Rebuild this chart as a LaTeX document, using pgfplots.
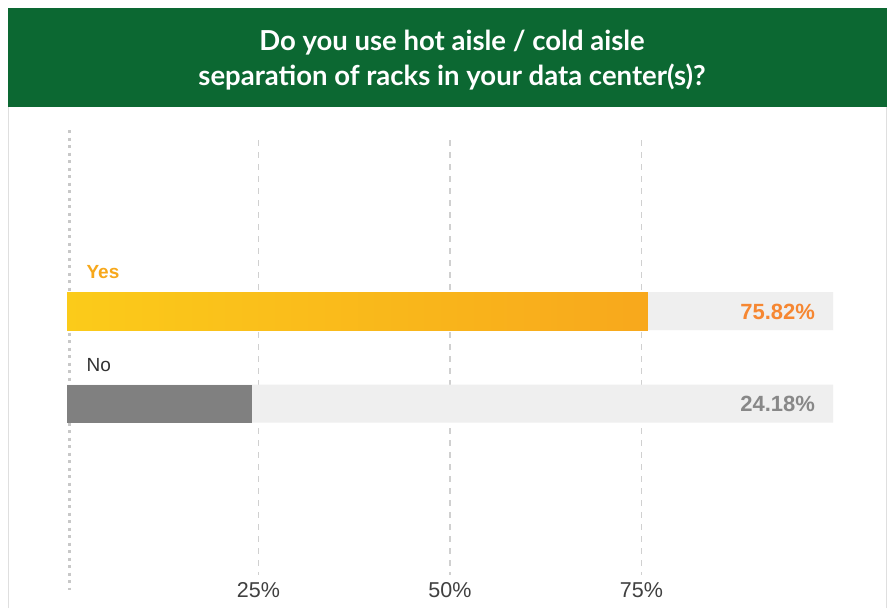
\documentclass[border=0pt]{standalone}
\usepackage{pgfplots}
\pgfplotsset{compat=1.18}
\usepackage{fontspec}
\setmainfont{Liberation Sans}
\newfontfamily\titlefont{Lato}
\definecolor{hdr}{RGB}{12,104,50}
\definecolor{bgbar}{RGB}{239,239,239}
\definecolor{yesL}{RGB}{251,203,26}
\definecolor{yesR}{RGB}{248,168,28}
\definecolor{nobar}{RGB}{128,128,128}
\definecolor{yeslab}{RGB}{247,168,27}
\definecolor{yesval}{RGB}{246,135,50}
\definecolor{noval}{RGB}{136,136,136}
\definecolor{gridc}{RGB}{208,208,208}
\definecolor{axc}{RGB}{200,200,200}
\begin{document}
\begin{tikzpicture}[x=1pt,y=1pt]
\fill[white] (0,0) rectangle (894,608);
\draw[gray!25, line width=1pt] (8.5,0) -- (8.5,600);
\draw[gray!25, line width=1pt] (886.5,0) -- (886.5,600);
\fill[hdr] (8,501) rectangle (887,600);
\node[text=white, align=center, font=\titlefont\bfseries\fontsize{27.5}{35}\selectfont] at (452,548) {Do you use hot aisle / cold aisle\\separation of racks in your data center(s)?};
\begin{axis}[
  at={(67pt,30pt)}, anchor=south west,
  scale only axis, width=766pt, height=448pt,
  xmin=0, xmax=100, ymin=130, ymax=578,
  y dir=reverse, clip=false,
  axis line style={draw=none},
  xtick={25,50,75}, xticklabels={25\%,50\%,75\%},
  major tick length=0pt,
  ytick=\empty,
  xticklabel style={text=black!75, font=\fontsize{21.5}{24}\selectfont, yshift=-1pt},
]
\draw[gridc, line width=1.2pt, dash pattern=on 6pt off 6pt] (axis cs:25,140) -- (axis cs:25,575);
\draw[gridc, line width=1.2pt, dash pattern=on 6pt off 6pt] (axis cs:50,140) -- (axis cs:50,575);
\draw[gridc, line width=1.2pt, dash pattern=on 6pt off 6pt] (axis cs:75,140) -- (axis cs:75,575);
\draw[axc, line width=2.5pt, dash pattern=on 3pt off 4.5pt] (axis cs:0.35,130) -- (axis cs:0.35,590);
\addplot[xbar, bar shift=0pt, bar width=38pt, draw=none, fill=bgbar] coordinates {(100,311) (100,403.5)};
\addplot[xbar, bar shift=0pt, bar width=38pt, draw=none, left color=yesL, right color=yesR] coordinates {(75.82,311)};
\addplot[xbar, bar shift=0pt, bar width=38pt, draw=none, fill=nobar] coordinates {(24.18,403.5)};
\node[anchor=west, text=yeslab, font=\bfseries\fontsize{19}{22}\selectfont] at (axis cs:2.1,272) {Yes};
\node[anchor=west, text=black!80, font=\fontsize{19}{22}\selectfont] at (axis cs:2.1,365) {No};
\node[anchor=east, text=yesval, font=\bfseries\fontsize{22}{25}\selectfont] at (axis cs:98.1,311.5) {75.82\%};
\node[anchor=east, text=noval, font=\bfseries\fontsize{22}{25}\selectfont] at (axis cs:98.1,404) {24.18\%};
\end{axis}
\end{tikzpicture}
\end{document}
